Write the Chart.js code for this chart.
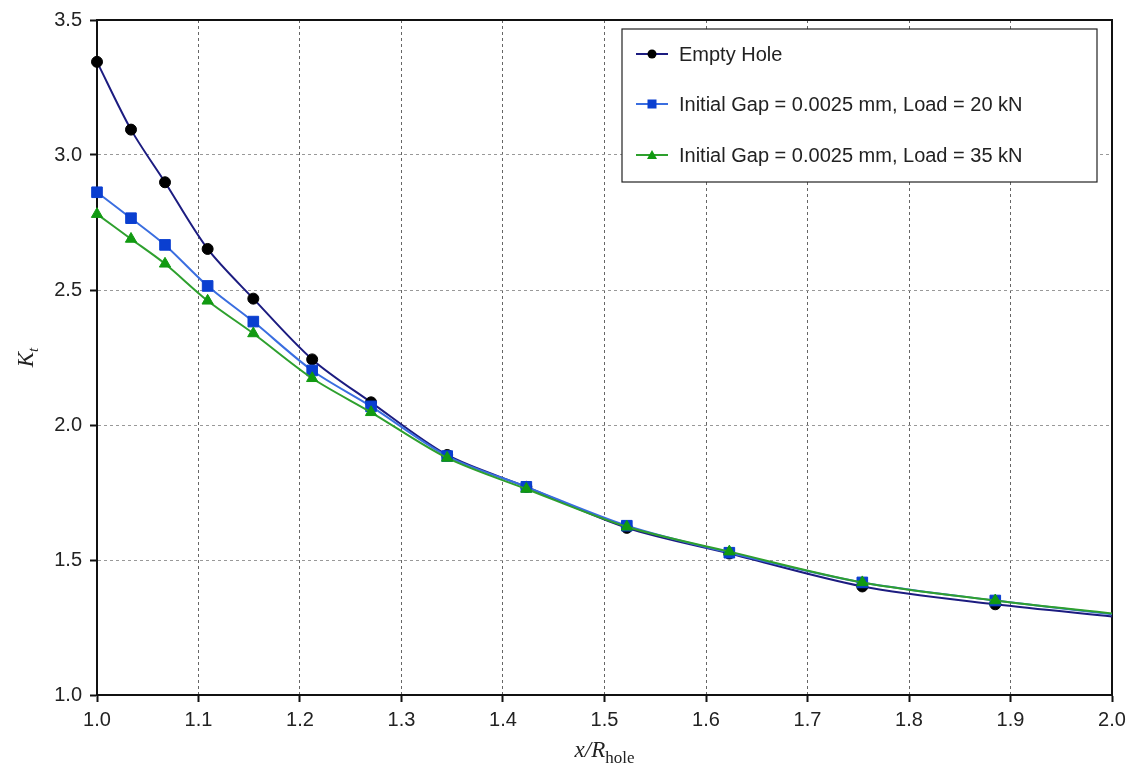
<!DOCTYPE html>
<html>
<head>
<meta charset="utf-8">
<script src="https://cdn.jsdelivr.net/npm/chart.js@4.4.0/dist/chart.umd.min.js"></script>
<style>
  html, body { margin: 0; padding: 0; background: #fff; }
  #wrap { width: 1136px; height: 778px; position: relative; }
</style>
</head>
<body>
<div id="wrap"><canvas id="grafico"></canvas></div>
<script>
// posicoes x/R_hole dos nos
const pos_x = [1.0, 1.0335, 1.067, 1.109, 1.154, 1.212, 1.270, 1.345, 1.423, 1.522, 1.623, 1.754, 1.885, 2.0];

// Kt ao longo da secao
const kt_furo_vazio = [3.345, 3.094, 2.899, 2.652, 2.468, 2.243, 2.084, 1.889, 1.771, 1.619, 1.524, 1.402, 1.336, 1.291];
const kt_20kn = [2.862, 2.766, 2.667, 2.515, 2.383, 2.202, 2.069, 1.885, 1.771, 1.627, 1.527, 1.417, 1.350, 1.299];
const kt_35kn = [2.781, 2.689, 2.597, 2.460, 2.339, 2.173, 2.047, 1.878, 1.763, 1.623, 1.531, 1.417, 1.350, 1.302];

const rotulos = [
    'Empty Hole',
    'Initial Gap = 0.0025 mm, Load = 20 kN',
    'Initial Gap = 0.0025 mm, Load = 35 kN'
];

const ticks_x = [1.0, 1.1, 1.2, 1.3, 1.4, 1.5, 1.6, 1.7, 1.8, 1.9, 2.0];
const ticks_y = [1.0, 1.5, 2.0, 2.5, 3.0, 3.5];

function montarPontos(lista) {
    return pos_x.map((x, i) => ({ x: x, y: lista[i] }));
}

// o ultimo no (x = 2.0) fica sem marcador
function raios(r) {
    return pos_x.map((x, i) => i == pos_x.length - 1 ? 0 : r);
}

// moldura, titulos dos eixos e legenda dentro do grafico
const extras = {
    id: 'extras',
    beforeDatasetsDraw(chart) {
        const ctx = chart.ctx;
        const area = chart.chartArea;
        ctx.save();
        ctx.strokeStyle = '#111';
        ctx.lineWidth = 2;
        ctx.strokeRect(area.left, area.top, area.right - area.left, area.bottom - area.top);
        ctx.restore();
    },
    afterDraw(chart) {
        const ctx = chart.ctx;
        const area = chart.chartArea;
        ctx.save();

        // x/R_hole
        ctx.fillStyle = '#222';
        ctx.textBaseline = 'alphabetic';
        ctx.font = 'italic 23px "Liberation Serif"';
        const t1 = 'x/R';
        const w1 = ctx.measureText(t1).width;
        ctx.font = '17px "Liberation Serif"';
        const w2 = ctx.measureText('hole').width;
        let cx = (area.left + area.right) / 2 - (w1 + w2) / 2;
        ctx.font = 'italic 23px "Liberation Serif"';
        ctx.fillText(t1, cx, 757);
        ctx.font = '17px "Liberation Serif"';
        ctx.fillText('hole', cx + w1, 763);

        // K_t
        ctx.translate(33, (area.top + area.bottom) / 2);
        ctx.rotate(-Math.PI / 2);
        ctx.font = 'italic 23px "Liberation Serif"';
        const wk = ctx.measureText('K').width;
        ctx.font = 'italic 15px "Liberation Serif"';
        const wt = ctx.measureText('t').width;
        ctx.font = 'italic 23px "Liberation Serif"';
        ctx.fillText('K', -(wk + wt) / 2, 0);
        ctx.font = 'italic 15px "Liberation Serif"';
        ctx.fillText('t', -(wk + wt) / 2 + wk, 5);
        ctx.restore();

        // legenda
        ctx.save();
        const lx = 622, ly = 29, lw = 475, lh = 153;
        ctx.fillStyle = '#fff';
        ctx.fillRect(lx, ly, lw, lh);
        ctx.strokeStyle = '#222';
        ctx.lineWidth = 1.2;
        ctx.strokeRect(lx, ly, lw, lh);
        const linhasY = [54, 104, 155];
        chart.data.datasets.forEach((ds, i) => {
            const y = linhasY[i];
            ctx.strokeStyle = ds.borderColor;
            ctx.lineWidth = 2;
            ctx.beginPath();
            ctx.moveTo(636, y);
            ctx.lineTo(668, y);
            ctx.stroke();
            ctx.fillStyle = ds.pointBackgroundColor;
            if (ds.pointStyle == 'circle') {
                ctx.beginPath();
                ctx.arc(652, y, 4.5, 0, Math.PI * 2);
                ctx.fill();
            } else if (ds.pointStyle == 'rect') {
                ctx.fillRect(647.5, y - 4.5, 9, 9);
            } else {
                ctx.beginPath();
                ctx.moveTo(652, y - 5);
                ctx.lineTo(657, y + 4);
                ctx.lineTo(647, y + 4);
                ctx.closePath();
                ctx.fill();
            }
            ctx.fillStyle = '#222';
            ctx.font = '20px "Liberation Sans"';
            ctx.textBaseline = 'middle';
            ctx.fillText(ds.label, 679, y + 1);
        });
        ctx.restore();
    }
};

new Chart(document.getElementById('grafico'), {
    type: 'line',
    data: {
        datasets: [
            {
                label: rotulos[0],
                data: montarPontos(kt_furo_vazio),
                borderColor: '#1c1c80',
                borderWidth: 2,
                pointStyle: 'circle',
                pointRadius: raios(5.5),
                pointBackgroundColor: '#000',
                pointBorderColor: '#000',
                pointBorderWidth: 1,
                tension: 0.3,
                clip: false,
                order: 3
            },
            {
                label: rotulos[1],
                data: montarPontos(kt_20kn),
                borderColor: '#3a6ee0',
                borderWidth: 2,
                pointStyle: 'rect',
                pointRadius: raios(7.5),
                pointBackgroundColor: '#0a3fd0',
                pointBorderColor: '#0a3fd0',
                pointBorderWidth: 1,
                tension: 0.3,
                clip: false,
                order: 2
            },
            {
                label: rotulos[2],
                data: montarPontos(kt_35kn),
                borderColor: '#2ea02e',
                borderWidth: 2,
                pointStyle: 'triangle',
                pointRadius: raios(6.5),
                pointBackgroundColor: '#119a11',
                pointBorderColor: '#119a11',
                pointBorderWidth: 1,
                tension: 0.3,
                clip: false,
                order: 1
            }
        ]
    },
    options: {
        responsive: true,
        maintainAspectRatio: false,
        animation: false,
        layout: { padding: { left: 0, top: 17, right: 24, bottom: 0 } },
        plugins: {
            legend: { display: false },
            title: { display: false },
            tooltip: { enabled: false }
        },
        scales: {
            x: {
                type: 'linear',
                min: 1.0,
                max: 2.0,
                afterBuildTicks: function (s) { s.ticks = ticks_x.map(v => ({ value: v })); },
                afterFit: function (s) { s.height = 83; },
                grid: {
                    color: '#666',
                    lineWidth: 1,
                    tickLength: 7,
                    tickColor: '#111',
                    tickWidth: 2
                },
                border: { display: true, color: '#111', width: 2, dash: [3, 3] },
                ticks: {
                    color: '#222',
                    padding: 6,
                    maxRotation: 0,
                    font: { family: 'Liberation Sans', size: 20 },
                    callback: v => Number(v).toFixed(1)
                }
            },
            y: {
                type: 'linear',
                min: 1.0,
                max: 3.5,
                afterBuildTicks: function (s) { s.ticks = ticks_y.map(v => ({ value: v })); },
                afterFit: function (s) { s.width = 97; },
                grid: {
                    color: '#999',
                    lineWidth: 1,
                    tickLength: 7,
                    tickColor: '#111',
                    tickWidth: 2
                },
                border: { display: true, color: '#111', width: 2, dash: [3, 3] },
                ticks: {
                    color: '#222',
                    padding: 8,
                    font: { family: 'Liberation Sans', size: 20 },
                    callback: v => Number(v).toFixed(1)
                }
            }
        }
    },
    plugins: [extras]
});
</script>
</body>
</html>
